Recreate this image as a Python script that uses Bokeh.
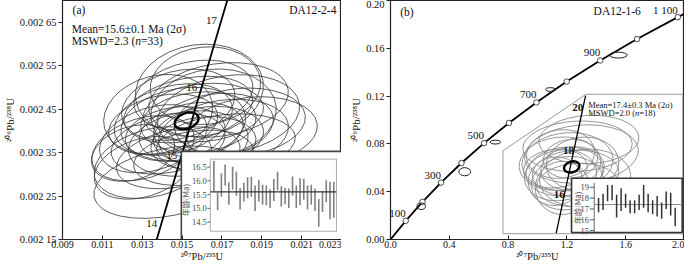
import numpy as np
from bokeh.plotting import figure
from bokeh.layouts import row
from bokeh.models import Range1d, FixedTicker, CustomJSTickFormatter
from bokeh.core.properties import value
from bokeh.embed import file_html
from bokeh.resources import INLINE

# ================= DATA =================
# ---- panel (a) DA12-2-4 : 33 error ellipses (207Pb/235U, 206Pb/238U)
A_ELL_X = [0.01587, 0.01617, 0.01557, 0.01683, 0.01481, 0.01531, 0.01607, 0.01733, 0.01790, 0.01456,
           0.01405, 0.01506, 0.01582, 0.01658, 0.01546, 0.01466, 0.01355, 0.01632, 0.01708, 0.01430,
           0.01304, 0.01531, 0.01607, 0.01355, 0.01430, 0.01304, 0.01481, 0.01720, 0.01850, 0.01254,
           0.01557, 0.01658, 0.01380]
A_ELL_Y = [0.002493, 0.002504, 0.002482, 0.002471, 0.002460, 0.002449, 0.002442, 0.002438, 0.002420, 0.002426,
           0.002415, 0.002415, 0.002420, 0.002411, 0.002398, 0.002393, 0.002382, 0.002389, 0.002393, 0.002371,
           0.002360, 0.002371, 0.002371, 0.002327, 0.002282, 0.002315, 0.002338, 0.002371, 0.002400, 0.002349,
           0.002338, 0.002442, 0.002438]
A_ELL_W = [0.00646, 0.00556, 0.00606, 0.00707, 0.00581, 0.00657, 0.00606, 0.00720, 0.00660, 0.00606,
           0.00556, 0.00631, 0.00581, 0.00606, 0.00530, 0.00505, 0.00556, 0.00556, 0.00657, 0.00581,
           0.00530, 0.00606, 0.00530, 0.00606, 0.00758, 0.00505, 0.00631, 0.00700, 0.00660, 0.00429,
           0.00606, 0.00631, 0.00556]
A_ELL_H = [0.000211, 0.000178, 0.000155, 0.000167, 0.000155, 0.000144, 0.000133, 0.000178, 0.000155, 0.000155,
           0.000133, 0.000167, 0.000138, 0.000147, 0.000129, 0.000122, 0.000144, 0.000133, 0.000155, 0.000133,
           0.000138, 0.000147, 0.000122, 0.000155, 0.000155, 0.000133, 0.000133, 0.000133, 0.000155, 0.000122,
           0.000122, 0.000200, 0.000178]
A_ELL_ANGLE = [0.15, 0.10, 0.20, 0.15, 0.25, 0.20, 0.10, 0.15, 0.10, 0.25, 0.20, 0.15, 0.10, 0.15, 0.20, 0.15,
               0.30, 0.10, 0.15, 0.20, 0.30, 0.15, 0.10, 0.25, 0.20, 0.30, 0.20, 0.10, 0.10, 0.30, 0.15, 0.10, 0.25]
A_MEAN_X, A_MEAN_Y, A_MEAN_W, A_MEAN_H = [0.01523], [0.002423], [0.00124], [0.000036]

A_CONC_AGE = [13, 14, 15, 16, 17, 18]
A_CONC_X = [0.0128854, 0.0138834, 0.0148824, 0.0158824, 0.0168834, 0.0178854]
A_CONC_Y = [0.0020187, 0.0021741, 0.0023296, 0.0024851, 0.0026406, 0.0027962]
A_CONC_LABELS = [14, 15, 16, 17]

# weighted-mean inset (a): ages (Ma), 2-sigma bars
A_SPOT = list(range(1, 34))
A_AGE_HI = [16.72, 15.58, 16.27, 16.59, 15.95, 16.51, 16.33, 15.74, 15.93, 16.13, 16.15, 15.83, 16.04, 15.86,
            15.83, 15.69, 16.07, 16.33, 15.80, 15.74, 15.72, 16.16, 15.83, 16.09, 16.07, 15.83, 15.86, 15.72,
            15.34, 15.62, 16.02, 15.97, 15.97]
A_AGE_LO = [15.62, 14.93, 15.42, 15.83, 15.13, 15.68, 15.46, 14.96, 15.25, 15.37, 15.42, 14.90, 15.25, 15.13,
            15.11, 15.01, 15.27, 15.66, 15.07, 15.15, 15.01, 15.46, 15.01, 15.11, 15.31, 14.96, 15.13, 14.90,
            14.33, 14.87, 15.22, 14.60, 14.66]
A_MEAN_AGE = 15.6
A_INSET_TICKS = [14.5, 15.0, 15.5, 16.0, 16.5]

# ---- panel (b) DA12-1-6
B_CONC_AGE = [0, 100, 200, 300, 400, 500, 600, 700, 800, 900, 1000, 1100, 1120]
B_CONC_X = [0.0, 0.10350, 0.21771, 0.34374, 0.48281, 0.63628, 0.80563, 0.99251, 1.19873, 1.42630,
            1.67741, 1.95452, 2.01329]
B_CONC_Y = [0.0, 0.015633, 0.031511, 0.047637, 0.064016, 0.080650, 0.097544, 0.114703, 0.132129,
            0.149828, 0.167804, 0.186061, 0.189746]
B_MARK_AGES = [100, 200, 300, 400, 500, 600, 700, 800, 900, 1000, 1100]
B_LABEL_AGES = [100, 300, 500, 700, 900, 1100]
B_LABEL_TEXT = ["100", "300", "500", "700", "900", "1 100"]

B_OLD_X = [0.209, 0.505, 0.713, 1.088, 1.550]
B_OLD_Y = [0.0278, 0.0567, 0.0815, 0.1255, 0.1543]
B_OLD_W = [0.057, 0.080, 0.073, 0.068, 0.120]
B_OLD_H = [0.0054, 0.0068, 0.0033, 0.0032, 0.0049]

# enlarged view (young zircons)
B_ELL_X = [0.018961, 0.019800, 0.015200, 0.016811, 0.016166, 0.017886, 0.015305, 0.018531, 0.014200,
           0.020036, 0.016811, 0.015736, 0.020600, 0.017456, 0.015300, 0.018961, 0.014200, 0.021400]
B_ELL_Y = [0.0028700, 0.0028148, 0.0027458, 0.0027596, 0.0026907, 0.0027114, 0.0026631, 0.0026769, 0.0027114,
           0.0027458, 0.0026079, 0.0025734, 0.0026424, 0.0027803, 0.0028148, 0.0025941, 0.0026217, 0.0029183]
B_ELL_W = [0.02350, 0.02450, 0.01760, 0.01960, 0.01660, 0.01370, 0.01560, 0.01860, 0.01370,
           0.01560, 0.01560, 0.01170, 0.01960, 0.01170, 0.01470, 0.01760, 0.01170, 0.02150]
B_ELL_H = [0.000359, 0.000414, 0.000379, 0.000414, 0.000345, 0.000310, 0.000359, 0.000331, 0.000276,
           0.000379, 0.000379, 0.000379, 0.000414, 0.000276, 0.000345, 0.000310, 0.000345, 0.000345]
B_ELL_ANGLE = [0.05, 0.08, 0.10, 0.08, 0.12, 0.10, 0.15, 0.05, 0.10, 0.10, 0.12, 0.15, 0.08, 0.10, 0.12,
               0.05, 0.15, 0.05]
B_MEAN_X, B_MEAN_Y, B_MEAN_W, B_MEAN_H = [0.01772], [0.002723], [0.00340], [0.000076]

B_ZC_AGE = [14.5, 16, 18, 20, 20.8]
B_ZC_X = [0.0143828, 0.0158824, 0.0178854, 0.0198923, 0.0206961]
B_ZC_Y = [0.0022518, 0.0024851, 0.0027962, 0.0031073, 0.0032318]
B_ZC_LABELS = [16, 18, 20]

B_SPOT = list(range(1, 19))
B_AGE_HI = [18.0, 18.4, 19.2, 19.2, 18.3, 18.9, 18.4, 17.8, 17.8, 18.3, 19.2, 18.4, 17.8, 18.2, 17.6, 18.6, 18.5, 17.1]
B_AGE_LO = [16.7, 16.9, 17.7, 17.8, 16.2, 16.8, 17.1, 16.6, 16.6, 16.9, 17.1, 16.7, 16.5, 16.3, 16.1, 17.0, 16.4, 15.4]
B_MEAN_AGE = 17.4
B_INSET_TICKS = [15, 16, 17, 18, 19]

A_X_TICKS = [0.009, 0.011, 0.013, 0.015, 0.017, 0.019, 0.021, 0.023]
A_X_LABELS = ["0.009", "0.011", "0.013", "0.015", "0.017", "0.019", "0.021", "0.023"]
A_Y_TICKS = [0.00215, 0.00225, 0.00235, 0.00245, 0.00255, 0.00265]
A_Y_LABELS = ["0.002 15", "0.002 25", "0.002 35", "0.002 45", "0.002 55", "0.002 65"]
B_X_TICKS = [0.0, 0.4, 0.8, 1.2, 1.6, 2.0]
B_X_LABELS = ["0.0", "0.4", "0.8", "1.2", "1.6", "2.0"]
B_Y_TICKS = [0.0, 0.04, 0.08, 0.12, 0.16, 0.20]
B_Y_LABELS = ["0.00", "0.04", "0.08", "0.12", "0.16", "0.20"]

# ================= STYLE =================
SERIF = "Liberation Serif"
CJK = "Noto Sans CJK SC"
INK = "#111111"


def frac_range(v0, f0, v1, f1):
    s = (v1 - v0) / (f1 - f0)
    start = v0 - f0 * s
    return Range1d(start, start + s)


def fmt(ticks, labels):
    return CustomJSTickFormatter(args=dict(tv=list(ticks), tl=list(labels)), code="""
const i = tv.findIndex(v => Math.abs(v - tick) < 1e-9);
return i >= 0 ? tl[i] : "";
""")


def make_fig(width, xr, yr, bl, br, xt, xl, yt, yl):
    p = figure(width=width, height=264, x_range=Range1d(*xr), y_range=Range1d(*yr),
               output_backend="svg", toolbar_location=None,
               min_border_left=bl, min_border_right=br, min_border_top=0, min_border_bottom=10)
    p.grid.visible = False
    p.outline_line_color = "#222222"
    p.outline_line_width = 1.2
    xa, ya = p.xaxis[0], p.yaxis[0]
    xa.ticker = FixedTicker(ticks=xt)
    xa.formatter = fmt(xt, xl)
    ya.ticker = FixedTicker(ticks=yt)
    ya.formatter = fmt(yt, yl)
    for ax in (xa, ya):
        ax.major_label_text_font = SERIF
        ax.major_label_text_font_size = "10.5px"
        ax.major_label_text_color = INK
        ax.axis_label_text_font = SERIF
        ax.axis_label_text_font_size = "11px"
        ax.axis_label_text_font_style = "normal"
        ax.axis_label_text_color = INK
        ax.minor_tick_line_color = None
        ax.axis_line_color = "#222222"
        ax.major_tick_line_color = "#222222"
    xa.major_label_text_font_size = "10px"
    xa.axis_label_text_font_size = "10.5px"
    xa.major_tick_in, xa.major_tick_out = 4, 0
    xa.major_label_standoff = 1
    xa.axis_label_standoff = 0
    ya.major_tick_in, ya.major_tick_out = 0, 4
    ya.major_label_standoff = 2
    ya.axis_label_standoff = 1
    xa.axis_label = "\u00b2\u2070\u2077Pb/\u00b2\u00b3\u2075U"
    ya.axis_label = "\u00b2\u2070\u2076Pb/\u00b2\u00b3\u2078U"
    return p


def txt(p, x, y, s, size, align="left", style="normal", color=INK, font=SERIF, xo=0, yo=0, angle=0, **kw):
    p.text(x=[x], y=[y], text=[s], text_font=value(font), text_font_size=size, text_align=align,
           text_baseline="middle", text_font_style=style, text_color=color, x_offset=xo, y_offset=yo,
           angle=angle, **kw)


# ================= PANEL (a) =================
pa = make_fig(341, (0.009, 0.023), (0.00215, 0.0027), 52, 0, A_X_TICKS, A_X_LABELS, A_Y_TICKS, A_Y_LABELS)

pa.ellipse(x=A_ELL_X, y=A_ELL_Y, width=A_ELL_W, height=A_ELL_H, angle=A_ELL_ANGLE,
           fill_color=None, line_color="#333333", line_width=0.8)
pa.line(A_CONC_X, A_CONC_Y, line_color="black", line_width=1.8)
pa.ellipse(x=A_MEAN_X, y=A_MEAN_Y, width=A_MEAN_W, height=A_MEAN_H, angle=0.35,
           fill_color=None, line_color="black", line_width=2.4)
lab_i = [A_CONC_AGE.index(a) for a in A_CONC_LABELS]
pa.text(x=[A_CONC_X[i] for i in lab_i], y=[A_CONC_Y[i] for i in lab_i], text=[str(a) for a in A_CONC_LABELS],
        text_font=value(SERIF), text_font_size="11px", text_align="center", text_baseline="middle",
        text_color=INK, x_offset=-8, y_offset=-6)

txt(pa, 0.009505, 0.0026773, "(a)", "11.5px")
txt(pa, 0.022744, 0.0026773, "DA12-2-4", "11.5px", align="right")
txt(pa, 0.00947, 0.0026336, "Mean=15.6\u00b10.1 Ma (2\u03c3)", "11.5px")
txt(pa, 0.00947, 0.0026078, "MSWD=2.3 (", "11.5px")
txt(pa, 0.00947, 0.0026078, "n", "11.5px", style="italic", xo=63.3)
txt(pa, 0.00947, 0.0026078, "=33)", "11.5px", xo=69.1)

# weighted-mean inset (a)
pa.extra_x_ranges = {"ix": frac_range(1, 0.5426, 33, 0.9722)}
pa.extra_y_ranges = {"iy": frac_range(14.5, 0.0727, 16.5, 0.3030)}
RA = dict(x_range_name="ix", y_range_name="iy")
pa.quad(left=[-7.69], right=[36.0], bottom=[13.5], top=[17.07], fill_color="white",
        line_color="#444444", line_width=1.6, **RA)
pa.quad(left=[0.03], right=[33.72], bottom=[14.17], top=[16.79], fill_color=None,
        line_color="#aaaaaa", line_width=1, **RA)
pa.segment(x0=[-0.75] * len(A_INSET_TICKS), y0=A_INSET_TICKS, x1=[0.03] * len(A_INSET_TICKS), y1=A_INSET_TICKS,
           line_color="#666666", line_width=1, **RA)
pa.text(x=[-0.9] * len(A_INSET_TICKS), y=A_INSET_TICKS, text=["%.1f" % t for t in A_INSET_TICKS],
        text_font=value(SERIF), text_font_size="8.5px", text_align="right", text_baseline="middle",
        text_color="#444444", **RA)
pa.segment(x0=A_SPOT, y0=A_AGE_LO, x1=A_SPOT, y1=A_AGE_HI, line_color="#808080", line_width=1.6, **RA)
pa.segment(x0=[0.03], y0=[A_MEAN_AGE], x1=[33.72], y1=[A_MEAN_AGE], line_color="#333333", line_width=1.1, **RA)
txt(pa, -6.6, 15.3, "\u5e74\u9f84(Ma)", "8px", align="center", color="#555555", font=CJK, angle=np.pi / 2, **RA)

# ================= PANEL (b) =================
pb = make_fig(343, (0.0, 2.0), (0.0, 0.2), 49, 0, B_X_TICKS, B_X_LABELS, B_Y_TICKS, B_Y_LABELS)

pb.line(B_CONC_X, B_CONC_Y, line_color="black", line_width=1.8)
mk = [B_CONC_AGE.index(a) for a in B_MARK_AGES]
pb.scatter(x=[B_CONC_X[i] for i in mk], y=[B_CONC_Y[i] for i in mk], size=5.5, marker="circle",
           fill_color="white", line_color="#222222", line_width=0.8)
lb = [B_CONC_AGE.index(a) for a in B_LABEL_AGES]
pb.text(x=[B_CONC_X[i] for i in lb], y=[B_CONC_Y[i] for i in lb], text=B_LABEL_TEXT,
        text_font=value(SERIF), text_font_size="11px", text_align="right", text_baseline="middle",
        text_color=INK, x_offset=0, y_offset=-7.5)
pb.ellipse(x=B_OLD_X, y=B_OLD_Y, width=B_OLD_W, height=B_OLD_H, fill_color=None,
           line_color="#222222", line_width=1)

# enlarged region
POLY_X = [0.765, 0.765, 1.329, 1.988, 1.988]
POLY_Y = [0.00486, 0.0742, 0.1215, 0.1215, 0.00486]
pb.patch(POLY_X, POLY_Y, fill_color="white", line_color="#999999", line_width=1)

pb.extra_x_ranges = {"zx": Range1d(-0.02119, 0.04193), "bx": frac_range(1, 0.7077, 18, 0.9683)}
pb.extra_y_ranges = {"zy": Range1d(0.002206, 0.003909), "by": frac_range(15, 0.0372, 19, 0.2186)}
RZ = dict(x_range_name="zx", y_range_name="zy")
RB = dict(x_range_name="bx", y_range_name="by")
pb.ellipse(x=B_ELL_X, y=B_ELL_Y, width=B_ELL_W, height=B_ELL_H, angle=B_ELL_ANGLE,
           fill_color=None, line_color="#8a8a8a", line_width=0.9, **RZ)
pb.line(B_ZC_X, B_ZC_Y, line_color="black", line_width=1.3, **RZ)
pb.ellipse(x=B_MEAN_X, y=B_MEAN_Y, width=B_MEAN_W, height=B_MEAN_H, angle=0.3,
           fill_color=None, line_color="black", line_width=2.4, **RZ)
zl = [B_ZC_AGE.index(a) for a in B_ZC_LABELS]
pb.text(x=[B_ZC_X[i] for i in zl], y=[B_ZC_Y[i] for i in zl], text=[str(a) for a in B_ZC_LABELS],
        text_font=value(SERIF), text_font_size="11px", text_font_style="bold", text_align="center",
        text_baseline="middle", text_color=INK, x_offset=-4, y_offset=-6, **RZ)

txt(pb, 1.345, 0.1127, "Mean=17.4\u00b10.3 Ma (2\u03c3)", "8.5px")
txt(pb, 1.345, 0.1057, "MSWD=2.0 (", "8.5px")
txt(pb, 1.345, 0.1057, "n", "8.5px", style="italic", xo=46.8)
txt(pb, 1.345, 0.1057, "=18)", "8.5px", xo=51.1)

# weighted-mean inset (b)
pb.quad(left=[-5.0], right=[19.56], bottom=[14.83], top=[19.83], fill_color="white",
        line_color="#333333", line_width=1.6, **RB)
pb.segment(x0=[0.04], y0=[14.83], x1=[0.04], y1=[19.4], line_color="#666666", line_width=1, **RB)
pb.segment(x0=[-0.95] * len(B_INSET_TICKS), y0=B_INSET_TICKS, x1=[0.04] * len(B_INSET_TICKS), y1=B_INSET_TICKS,
           line_color="#555555", line_width=1, **RB)
pb.text(x=[-1.1] * len(B_INSET_TICKS), y=B_INSET_TICKS, text=[str(t) for t in B_INSET_TICKS],
        text_font=value(SERIF), text_font_size="8.5px", text_align="right", text_baseline="middle",
        text_color="#444444", **RB)
pb.segment(x0=[0.04], y0=[B_MEAN_AGE], x1=[19.5], y1=[B_MEAN_AGE], line_color="#888888", line_width=1, **RB)
pb.segment(x0=B_SPOT, y0=B_AGE_LO, x1=B_SPOT, y1=B_AGE_HI, line_color="#333333", line_width=1.5, **RB)
txt(pb, -3.67, 17.1, "\u5e74\u9f84(Ma)", "8px", align="center", color="#555555", font=CJK, angle=np.pi / 2, **RB)

txt(pb, 0.066, 0.190, "(b)", "11.5px")
txt(pb, 1.703, 0.1916, "DA12-1-6", "11.5px", align="right")

layout = row(pa, pb)
open("out.html", "w").write(file_html(layout, INLINE))
